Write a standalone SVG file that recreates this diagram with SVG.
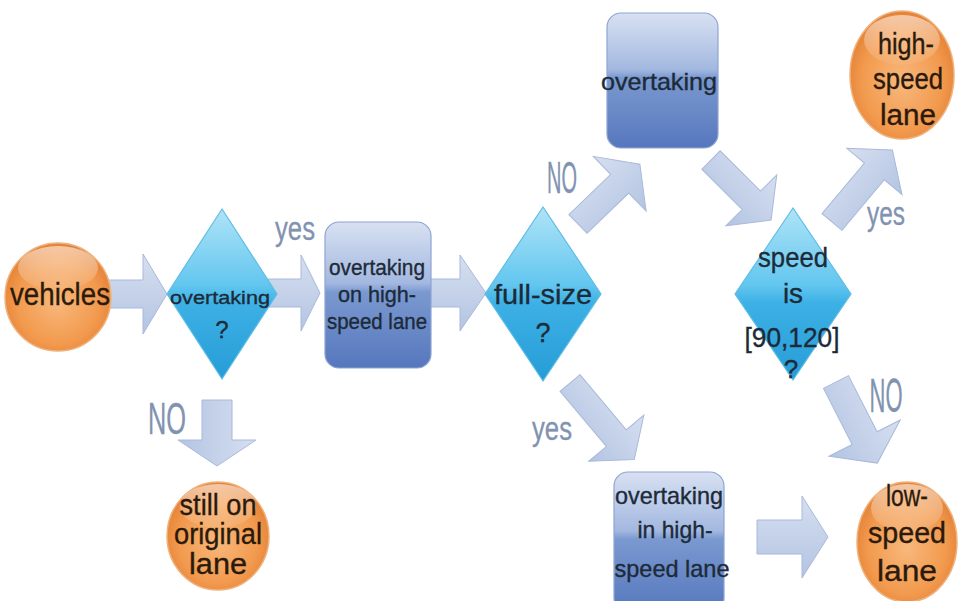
<svg xmlns="http://www.w3.org/2000/svg" width="958" height="601" viewBox="0 0 958 601">
<defs>
<linearGradient id="gArrow" x1="0" y1="0" x2="0" y2="1">
<stop offset="0" stop-color="#d6dff0"/>
<stop offset="1" stop-color="#b3c4e2"/>
</linearGradient>
<linearGradient id="gBox" x1="0" y1="0" x2="0" y2="1">
<stop offset="0" stop-color="#d8e1f2"/>
<stop offset="0.42" stop-color="#a3b8e0"/>
<stop offset="0.48" stop-color="#7a99d0"/>
<stop offset="1" stop-color="#5677bd"/>
</linearGradient>
<linearGradient id="gDia" x1="0" y1="0" x2="0" y2="1">
<stop offset="0" stop-color="#b0e4f7"/>
<stop offset="0.45" stop-color="#62c6ef"/>
<stop offset="0.55" stop-color="#3db1e5"/>
<stop offset="1" stop-color="#269cd7"/>
</linearGradient>
<radialGradient id="gCirc" cx="0.5" cy="0.55" r="0.55">
<stop offset="0" stop-color="#f8b87c"/>
<stop offset="0.7" stop-color="#f29a4e"/>
<stop offset="1" stop-color="#e48136"/>
</radialGradient>
<linearGradient id="gGloss" x1="0" y1="0" x2="0" y2="1">
<stop offset="0" stop-color="#ffffff" stop-opacity="0.55"/>
<stop offset="1" stop-color="#ffffff" stop-opacity="0.05"/>
</linearGradient>
<style>
.arrow{fill:url(#gArrow);stroke:#a8b9da;stroke-width:1}
.box{fill:url(#gBox);stroke:#8ea5d2;stroke-width:1.2}
.dia{fill:url(#gDia);stroke:#5fbde6;stroke-width:1.2}
.circ{fill:url(#gCirc);stroke:#f0b27c;stroke-width:1.5}
.gloss{fill:url(#gGloss)}
.t{font-family:"Liberation Sans",Arial,sans-serif;fill:#1d2a38;stroke:#1d2a38;stroke-width:0.35;text-anchor:middle}
.tc{font-family:"Liberation Sans",Arial,sans-serif;fill:#2b1a0c;stroke:#2b1a0c;stroke-width:0.35;text-anchor:middle}
.lbl{font-family:"Liberation Sans",Arial,sans-serif;fill:#8193b0;stroke:#8193b0;stroke-width:0.3;text-anchor:middle}
</style>
</defs>
<rect width="958" height="601" fill="#ffffff"/>

<g id="connectors">
<path class="arrow" transform="translate(104,294)" d="M0,-14 H39 V-40 L63,0 L39,40 V14 H0 Z"/>
<path class="arrow" transform="translate(268,293)" d="M0,-14 H33 V-38 L52,0 L33,38 V14 H0 Z"/>
<path class="arrow" transform="translate(430,293)" d="M0,-14 H30 V-38 L56,0 L30,38 V14 H0 Z"/>
<path class="arrow" transform="translate(217,400) rotate(90)" d="M0,-15 H40 V-39 L66,0 L40,39 V15 H0 Z"/>
<path class="arrow" transform="translate(578,224) rotate(-44)" d="M0,-13 H58 V-38 L86,0 L58,38 V13 H0 Z"/>
<path class="arrow" transform="translate(570,383) rotate(50)" d="M0,-13 H72 V-36 L100,0 L72,36 V13 H0 Z"/>
<path class="arrow" transform="translate(711,160) rotate(45)" d="M0,-13 H57 V-36 L85,0 L57,36 V13 H0 Z"/>
<path class="arrow" transform="translate(832,222) rotate(-50)" d="M0,-13 H66 V-36 L94,0 L66,36 V13 H0 Z"/>
<path class="arrow" transform="translate(836,382) rotate(63)" d="M0,-14 H63 V-40 L91,0 L63,40 V14 H0 Z"/>
<path class="arrow" transform="translate(757,537)" d="M0,-17 H45 V-41 L71,0 L45,41 V17 H0 Z"/>
<text class="lbl" x="295" y="240" font-size="34" textLength="40" lengthAdjust="spacingAndGlyphs">yes</text>
<text class="lbl" x="167" y="434" font-size="44" textLength="38" lengthAdjust="spacingAndGlyphs">NO</text>
<text class="lbl" x="562" y="193" font-size="44" textLength="30" lengthAdjust="spacingAndGlyphs">NO</text>
<text class="lbl" x="552" y="440" font-size="34" textLength="40" lengthAdjust="spacingAndGlyphs">yes</text>
<text class="lbl" x="886" y="225" font-size="34" textLength="38" lengthAdjust="spacingAndGlyphs">yes</text>
<text class="lbl" x="886" y="412" font-size="48" textLength="33" lengthAdjust="spacingAndGlyphs">NO</text>
</g>

<g id="vehicles">
<ellipse class="circ" cx="58" cy="297" rx="53" ry="54"/>
<ellipse class="gloss" cx="58" cy="268" rx="40" ry="22"/>
<text class="tc" x="60" y="305" font-size="31" textLength="100" lengthAdjust="spacingAndGlyphs">vehicles</text>
</g>

<g id="overtaking-q">
<polygon class="dia" points="222,209 277,294 222,379 167,294"/>
<text class="t" x="220" y="304" font-size="19" textLength="100" lengthAdjust="spacingAndGlyphs">overtaking</text>
<text class="t" x="222" y="338" font-size="24">?</text>
</g>

<g id="still-on-original-lane">
<ellipse class="circ" cx="218" cy="536" rx="51" ry="54"/>
<ellipse class="gloss" cx="218" cy="506" rx="38" ry="22"/>
<text class="tc" x="218" y="515" font-size="29" textLength="77" lengthAdjust="spacingAndGlyphs">still on</text>
<text class="tc" x="218" y="544" font-size="29" textLength="88" lengthAdjust="spacingAndGlyphs">original</text>
<text class="tc" x="218" y="574" font-size="29" textLength="58" lengthAdjust="spacingAndGlyphs">lane</text>
</g>

<g id="overtaking-high-speed-lane">
<rect class="box" x="325" y="222" width="106" height="146" rx="14"/>
<text class="t" x="377" y="275" font-size="22" textLength="96" lengthAdjust="spacingAndGlyphs">overtaking</text>
<text class="t" x="377" y="302" font-size="22" textLength="78" lengthAdjust="spacingAndGlyphs">on high-</text>
<text class="t" x="377" y="329" font-size="22" textLength="100" lengthAdjust="spacingAndGlyphs">speed lane</text>
</g>

<g id="full-size-q">
<polygon class="dia" points="543,207 601,294 543,381 485,294"/>
<text class="t" x="543" y="304" font-size="28" textLength="98" lengthAdjust="spacingAndGlyphs">full-size</text>
<text class="t" x="543" y="342" font-size="27">?</text>
</g>

<g id="overtaking-top">
<rect class="box" x="607" y="13" width="111" height="135" rx="14"/>
<text class="t" x="659" y="90" font-size="24" textLength="116" lengthAdjust="spacingAndGlyphs">overtaking</text>
</g>

<g id="overtaking-in-high-speed-lane">
<rect class="box" x="614" y="472" width="110" height="140" rx="14"/>
<text class="t" x="669" y="504" font-size="24" textLength="108" lengthAdjust="spacingAndGlyphs">overtaking</text>
<text class="t" x="675" y="538" font-size="24" textLength="75" lengthAdjust="spacingAndGlyphs">in high-</text>
<text class="t" x="672" y="577" font-size="24" textLength="115" lengthAdjust="spacingAndGlyphs">speed lane</text>
</g>

<g id="speed-q">
<polygon class="dia" points="793,208 851,294 793,380 735,294"/>
<text class="t" x="793" y="267" font-size="28" textLength="70" lengthAdjust="spacingAndGlyphs">speed</text>
<text class="t" x="793" y="303" font-size="28">is</text>
<text class="t" x="792" y="347" font-size="28" textLength="95" lengthAdjust="spacingAndGlyphs">[90,120]</text>
<text class="t" x="791" y="378" font-size="26">?</text>
</g>

<g id="high-speed-lane">
<ellipse class="circ" cx="902" cy="75" rx="52" ry="64"/>
<ellipse class="gloss" cx="902" cy="40" rx="38" ry="25"/>
<text class="tc" x="906" y="54" font-size="29" textLength="56" lengthAdjust="spacingAndGlyphs">high-</text>
<text class="tc" x="908" y="89" font-size="29" textLength="70" lengthAdjust="spacingAndGlyphs">speed</text>
<text class="tc" x="908" y="125" font-size="29" textLength="56" lengthAdjust="spacingAndGlyphs">lane</text>
</g>

<g id="low-speed-lane">
<ellipse class="circ" cx="907" cy="542" rx="50" ry="60"/>
<ellipse class="gloss" cx="907" cy="508" rx="36" ry="24"/>
<text class="tc" x="907" y="506" font-size="29" textLength="42" lengthAdjust="spacingAndGlyphs">low-</text>
<text class="tc" x="907" y="543" font-size="29" textLength="78" lengthAdjust="spacingAndGlyphs">speed</text>
<text class="tc" x="907" y="581" font-size="29" textLength="60" lengthAdjust="spacingAndGlyphs">lane</text>
</g>
</svg>
